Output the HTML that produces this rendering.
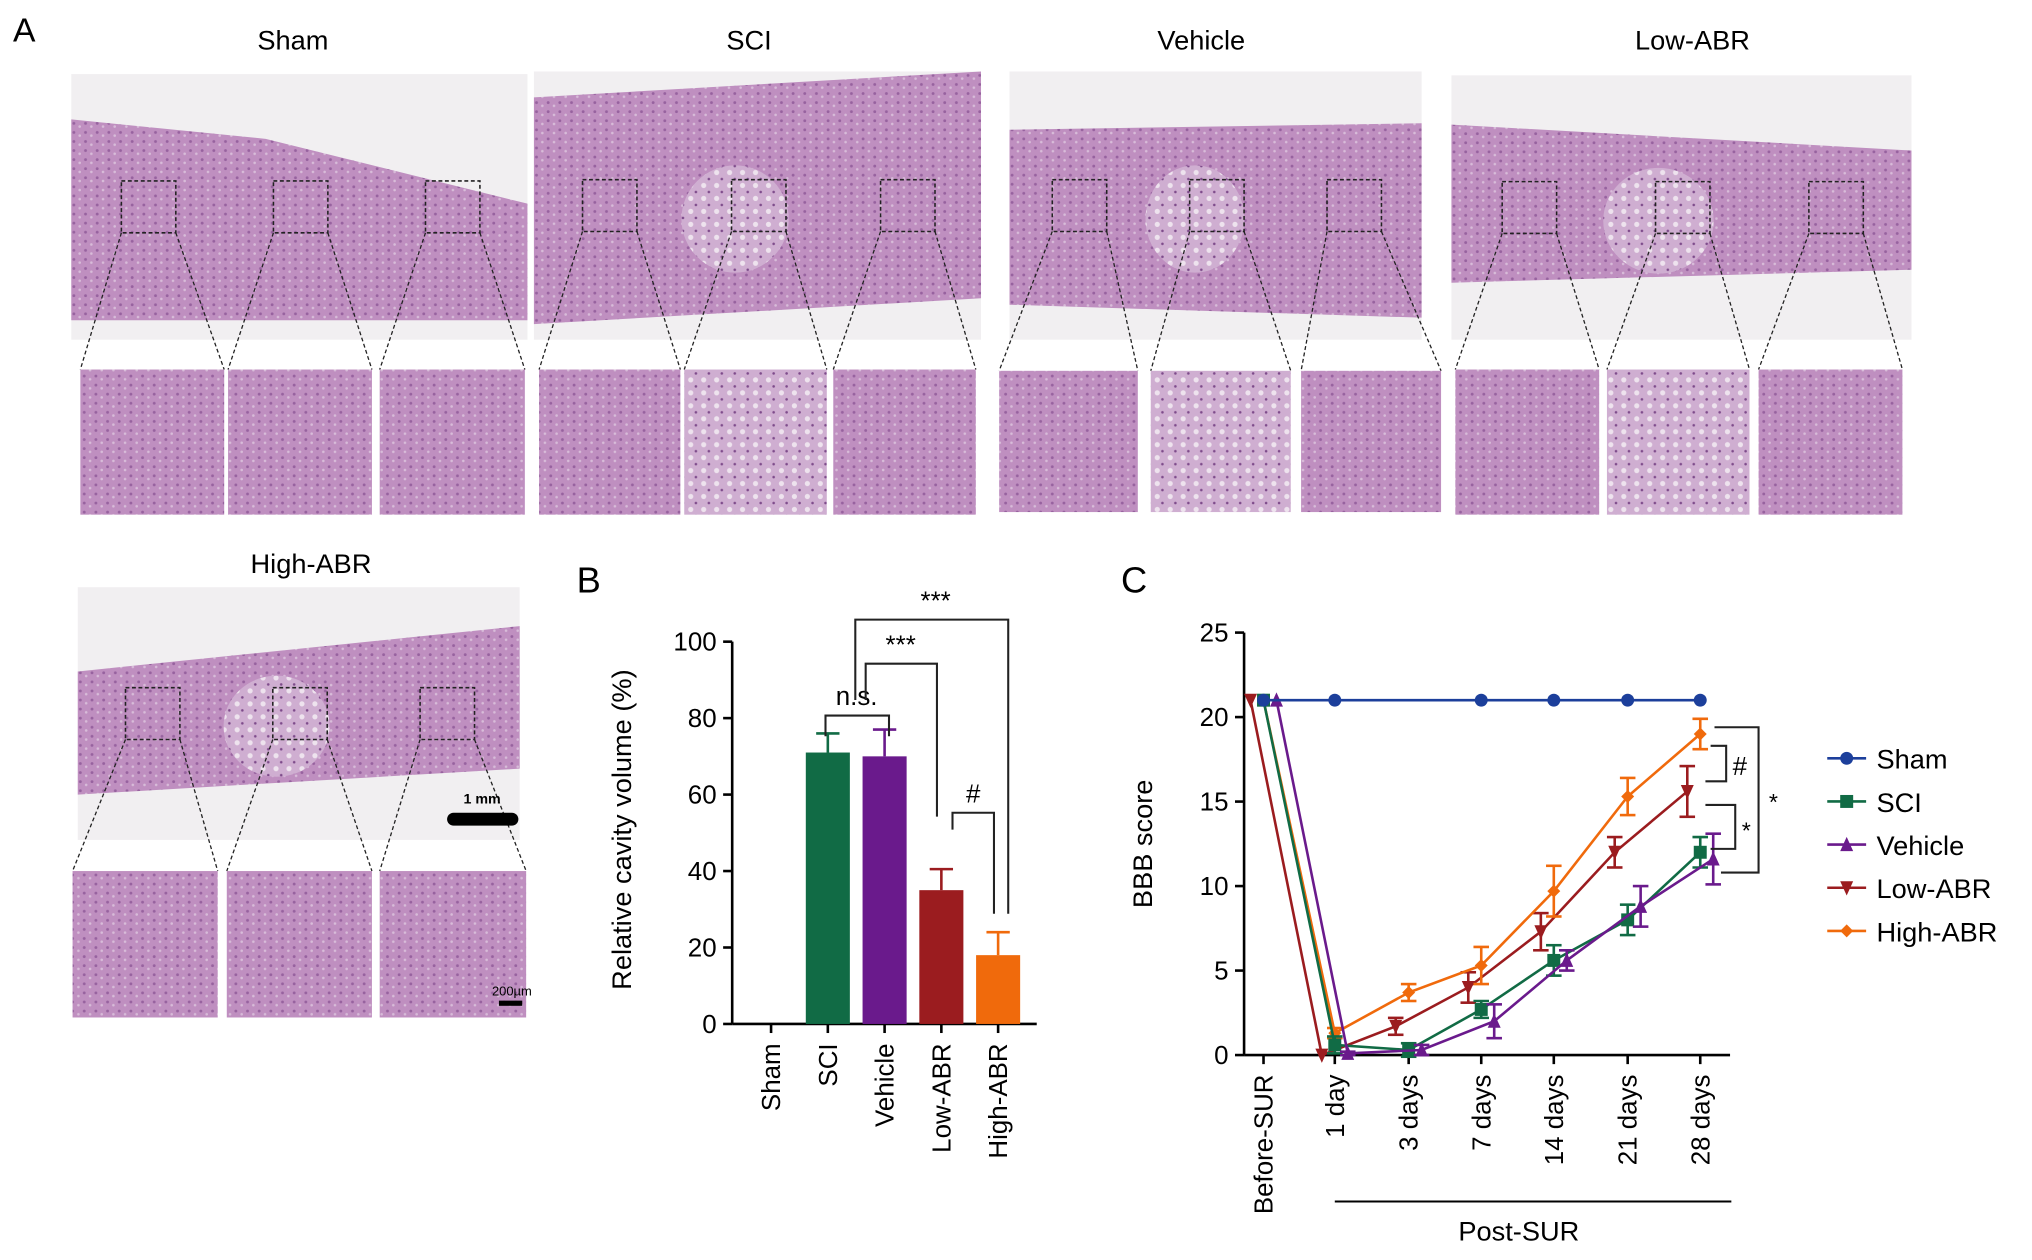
<!DOCTYPE html>
<html><head><meta charset="utf-8"><style>
html,body{margin:0;padding:0;background:#fff;}
svg{display:block;font-family:"Liberation Sans",Arial,sans-serif;}
</style></head><body>
<svg id="fig" width="2032" height="1260" viewBox="0 0 1568 972" xmlns="http://www.w3.org/2000/svg">
<defs>
<pattern id="tex" width="9" height="7" patternUnits="userSpaceOnUse">
<rect width="9" height="7" fill="#bf8fc0"/><circle cx="2" cy="3" r="1.1" fill="#97629f"/><circle cx="6.5" cy="5.5" r="1" fill="#d8bcd9"/>
</pattern>
<pattern id="tex2" width="10" height="10" patternUnits="userSpaceOnUse">
<rect width="10" height="10" fill="#cfaed1"/><circle cx="3" cy="3" r="2" fill="#eee3ee"/><circle cx="7" cy="8" r="1" fill="#7e4b8b"/>
</pattern>
</defs>
<g id="panelA"></g>
<g id="panelB"></g>
<g id="panelC"></g>
</svg>
<script>
// ---------- Panel B data ----------
const barCategories = ["Sham","SCI","Vehicle","Low-ABR","High-ABR"];
const barValues = [0, 71, 70, 35, 18];
const barErrors = [0, 5, 7, 5.5, 6];
const barTicks = [0,20,40,60,80,100];
// ---------- Panel C data ----------
const timeLabels = ["Before-SUR","1 day","3 days","7 days","14 days","21 days","28 days"];
const seriesNames = ["Sham","SCI","Vehicle","Low-ABR","High-ABR"];
const shamValues = [21,21,null,21,21,21,21];
const sciValues = [21,0.6,0.3,2.7,5.6,8,12];
const vehicleValues = [21,0.1,0.3,2,5.6,8.8,11.6];
const lowValues = [21,0,1.7,4,7.3,12,15.6];
const highValues = [21,1.3,3.7,5.3,9.7,15.3,19];
const sciErr = [0,0.5,0.4,0.5,0.9,0.9,0.9];
const vehicleErr = [0,0.1,0.3,1,0.6,1.2,1.5];
const lowErr = [0,0,0.5,0.9,1.1,0.9,1.5];
const highErr = [0,0.3,0.5,1.1,1.5,1.1,0.9];
const cTicks = [0,5,10,15,20,25];

const NS="http://www.w3.org/2000/svg";
function mk(parent, tag, attrs, text){const e=document.createElementNS(NS,tag);for(const k in attrs)e.setAttribute(k,attrs[k]);if(text!==undefined)e.textContent=text;parent.appendChild(e);return e;}

// ---------- Panel A ----------
const A=document.getElementById('panelA');
let t=mk(A,'text',{x:10,y:32,'font-size':26});t.textContent='A';


const mains=[
 {name:'Sham',tx:226,ty:38,x:55,y:57,w:352,h:205,insets:[[62,173],[176,287],[293,405]],iy:285,ih:112,poly:'0,35 150,50 352,100 352,190 0,190'},
 {name:'SCI',tx:578,ty:38,x:412,y:55,w:345,h:207,insets:[[416,525],[528,638],[643,753]],iy:285,ih:112,poly:'0,20 345,0 345,175 0,195'},
 {name:'Vehicle',tx:927,ty:38,x:779,y:55,w:318,h:207,insets:[[771,878],[888,996],[1004,1112]],iy:286,ih:109,poly:'0,45 318,40 318,190 0,180'},
 {name:'Low-ABR',tx:1306,ty:38,x:1120,y:58,w:355,h:204,insets:[[1123,1234],[1240,1350],[1357,1468]],iy:285,ih:112,poly:'0,38 355,58 355,150 0,160'},
 {name:'High-ABR',tx:240,ty:442,x:60,y:453,w:341,h:195,insets:[[56,168],[175,287],[293,406]],iy:672,ih:113,poly:'0,65 341,30 341,140 0,160'}
];
mains.forEach(m=>{
 const g=mk(A,'g',{});
 
 
 const tt=mk(g,'text',{x:m.tx,y:m.ty,'font-size':21,'text-anchor':'middle'},m.name);
 
 
 mk(g,'rect',{x:m.x,y:m.y,width:m.w,height:m.h,fill:'#f1eff1'});
 mk(g,'polygon',{points:m.poly,transform:`translate(${m.x},${m.y})`,fill:'url(#tex)'});
 if(m.name!=='Sham'){mk(g,'ellipse',{cx:m.x+m.w*0.45,cy:m.y+m.h*0.55,rx:m.w*0.12,ry:m.h*0.2,fill:'url(#tex2)'});}
 m.insets.forEach((ins,i)=>{
  const bx=m.x+ (i+0.5)*m.w/3 -20, by=m.y+m.h*0.5-20;
  mk(g,'rect',{x:bx,y:by,width:42,height:40,fill:'none',stroke:'#222','stroke-dasharray':'3,2','stroke-width':1.2});
  mk(g,'line',{x1:bx,y1:by+40,x2:ins[0],y2:m.iy,stroke:'#222','stroke-dasharray':'3,2'});
  mk(g,'line',{x1:bx+42,y1:by+40,x2:ins[1],y2:m.iy,stroke:'#222','stroke-dasharray':'3,2'});
  mk(g,'rect',{x:ins[0],y:m.iy,width:ins[1]-ins[0],height:m.ih,fill:(m.name==='Sham'||m.name==='High-ABR')?'url(#tex)':(i==1?'url(#tex2)':'url(#tex)')});
 });
});
mk(A,'rect',{x:345,y:627,width:55,height:10,rx:5,fill:'#000'});
mk(A,'text',{x:372,y:620,'font-size':11,'text-anchor':'middle','font-weight':'bold'},'1 mm');
mk(A,'rect',{x:385,y:772,width:18,height:4,fill:'#000'});
mk(A,'text',{x:395,y:768,'font-size':10,'text-anchor':'middle'},'200µm');

// ---------- Panel B ----------
const B=document.getElementById('panelB');
t=mk(B,'text',{x:445,y:457,'font-size':28},'B');


const bx0=565,bx1=800,by0=790,by1=495;
const bY=v=>by0+(by1-by0)*v/100;
const bX=i=>595+i*43.8;
const barColors=['#000','#116b45','#6a1a8c','#9b1c1f','#f06a0c'];
mk(B,'line',{x1:bx0,y1:by1,x2:bx0,y2:by0,stroke:'#000','stroke-width':2});
mk(B,'line',{x1:bx0,y1:by0,x2:bx1,y2:by0,stroke:'#000','stroke-width':2});
barTicks.forEach(v=>{
 mk(B,'line',{x1:bx0-7,x2:bx0,y1:bY(v),y2:bY(v),stroke:'#000','stroke-width':2});
 const tl=mk(B,'text',{x:bx0-12,y:bY(v)+7,'font-size':20,'text-anchor':'end'},v);
 
 
});
t=mk(B,'text',{x:0,y:0,'font-size':21,'text-anchor':'middle',transform:'translate(487,640) rotate(-90)'},'Relative cavity volume (%)');


barCategories.forEach((c,i)=>{
 const x=bX(i);
 mk(B,'line',{x1:x,x2:x,y1:by0,y2:by0+7,stroke:'#000','stroke-width':2});
 const tl=mk(B,'text',{x:0,y:0,'font-size':20,'text-anchor':'end',transform:`translate(${x+7},${by0+15}) rotate(-90)`},c);
 
 
 if(barValues[i]>0){
  const r=mk(B,'rect',{x:x-17,y:bY(barValues[i]),width:34,height:by0-bY(barValues[i]),fill:barColors[i]});
  
  
  const ye=bY(barValues[i]+barErrors[i]);
  mk(B,'line',{x1:x,x2:x,y1:bY(barValues[i]),y2:ye,stroke:barColors[i],'stroke-width':2});
  mk(B,'line',{x1:x-9,x2:x+9,y1:ye,y2:ye,stroke:barColors[i],'stroke-width':2});
 }
});
function bracket(g,x1,y1a,x2,y2a,top,label,lx){
 mk(g,'polyline',{points:`${x1},${y1a} ${x1},${top} ${x2},${top} ${x2},${y2a}`,fill:'none',stroke:'#222','stroke-width':1.6});
 mk(g,'text',{x:lx,y:top-8,'font-size':20,'text-anchor':'middle'},label);
}
bracket(B,637,568,686,568,552,'n.s.',661);
bracket(B,668,540,723,630,512,'***',695);
bracket(B,660,540,778,705,478,'***',722);
bracket(B,735,640,767,705,627,'#',751);

// ---------- Panel C ----------
const C=document.getElementById('panelC');
t=mk(C,'text',{x:865,y:457,'font-size':28},'C');


const cx0=960,cy0=814,cy1=488;
const cY=v=>cy0+(cy1-cy0)*v/25;
const cX=i=>975+[0,55,112,168,224,281,337][i];
mk(C,'line',{x1:cx0,y1:cy1,x2:cx0,y2:cy0,stroke:'#000','stroke-width':2});
mk(C,'line',{x1:cx0,y1:cy0,x2:1335,y2:cy0,stroke:'#000','stroke-width':2});
cTicks.forEach(v=>{
 mk(C,'line',{x1:cx0-7,x2:cx0,y1:cY(v),y2:cY(v),stroke:'#000','stroke-width':2});
 const tl=mk(C,'text',{x:cx0-12,y:cY(v)+7,'font-size':20,'text-anchor':'end'},v);
 
 
});
t=mk(C,'text',{x:0,y:0,'font-size':21,'text-anchor':'middle',transform:'translate(889,651) rotate(-90)'},'BBB score');


timeLabels.forEach((lab,i)=>{
 const x=cX(i);
 mk(C,'line',{x1:x,x2:x,y1:cy0,y2:cy0+7,stroke:'#000','stroke-width':2});
 const tl=mk(C,'text',{x:0,y:0,'font-size':20,'text-anchor':'end',transform:`translate(${x+7},${cy0+15}) rotate(-90)`},lab);
 
 
});
mk(C,'line',{x1:1030,x2:1336,y1:927,y2:927,stroke:'#000','stroke-width':1.5});
t=mk(C,'text',{x:1172,y:957,'font-size':21,'text-anchor':'middle'},'Post-SUR');



const seriesData=[shamValues,sciValues,vehicleValues,lowValues,highValues];
const seriesErr=[null,sciErr,vehicleErr,lowErr,highErr];
const sColors=['#1c3f9b','#116b45','#6a1a8c','#9b1c1f','#f06a0c'];
const sOff=[0,0,10,-10,0];
function marker(g,k,x,y,col,s){
 if(k===0) return mk(g,'circle',{cx:x,cy:y,r:s,fill:col});
 if(k===1) return mk(g,'rect',{x:x-s,y:y-s,width:2*s,height:2*s,fill:col});
 if(k===2) return mk(g,'polygon',{points:`${x},${y-s-1} ${x-s},${y+s} ${x+s},${y+s}`,fill:col});
 if(k===3) return mk(g,'polygon',{points:`${x},${y+s+1} ${x-s},${y-s} ${x+s},${y-s}`,fill:col});
 return mk(g,'polygon',{points:`${x},${y-s} ${x+s},${y} ${x},${y+s} ${x-s},${y}`,fill:col});
}
[3,4,1,2,0].forEach(k=>{
 const vals=seriesData[k],col=sColors[k];
 const g=mk(C,'g',{});
 
 
 const pts=[];
 vals.forEach((v,i)=>{if(v!==null)pts.push([cX(i)+sOff[k],cY(v)]);});
 mk(g,'polyline',{points:pts.map(p=>p.join(',')).join(' '),fill:'none',stroke:col,'stroke-width':2});
 vals.forEach((v,i)=>{
  if(v===null)return;
  const x=cX(i)+sOff[k];
  if(seriesErr[k]&&seriesErr[k][i]>0){
   const e=seriesErr[k][i];
   mk(g,'line',{x1:x,x2:x,y1:cY(v-e),y2:cY(v+e),stroke:col,'stroke-width':2});
   mk(g,'line',{x1:x-6,x2:x+6,y1:cY(v-e),y2:cY(v-e),stroke:col,'stroke-width':2});
   mk(g,'line',{x1:x-6,x2:x+6,y1:cY(v+e),y2:cY(v+e),stroke:col,'stroke-width':2});
  }
  const mm=marker(g,k,x,cY(v),col,5);
  
  
 });
});
// significance brackets
const xe=cX(6);
const sig=mk(C,'g',{});


mk(sig,'polyline',{points:`${xe+8},${cY(18.3)} ${xe+20},${cY(18.3)} ${xe+20},${cY(16.2)} ${xe+4},${cY(16.2)}`,fill:'none',stroke:'#222','stroke-width':1.6});
mk(sig,'text',{x:xe+25,y:cY(17.2)+8,'font-size':20},'#');
mk(sig,'polyline',{points:`${xe+4},${cY(14.8)} ${xe+27},${cY(14.8)} ${xe+27},${cY(12.2)} ${xe+8},${cY(12.2)}`,fill:'none',stroke:'#222','stroke-width':1.6});
mk(sig,'text',{x:xe+32,y:cY(13.5)+9,'font-size':18},'*');
mk(sig,'polyline',{points:`${xe+11},${cY(19.4)} ${xe+45},${cY(19.4)} ${xe+45},${cY(10.8)} ${xe+16},${cY(10.8)}`,fill:'none',stroke:'#222','stroke-width':1.6});
mk(sig,'text',{x:xe+53,y:cY(15.2)+9,'font-size':18},'*');
// legend
const lg=mk(C,'g',{});


seriesNames.forEach((n,k)=>{
 const y=585+k*33.3;
 const e=mk(lg,'g',{});
 
 
 mk(e,'line',{x1:1410,x2:1440,y1:y,y2:y,stroke:sColors[k],'stroke-width':2});
 marker(e,k,1425,y,sColors[k],5);
 mk(e,'text',{x:1448,y:y+8,'font-size':21},n);
});
</script>
</body></html>
